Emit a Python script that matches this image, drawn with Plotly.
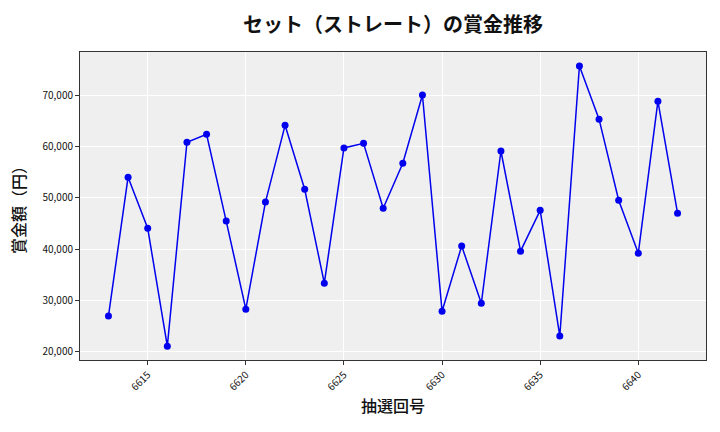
import plotly.graph_objects as go

draws = list(range(6613, 6643))
prizes = [26950, 54000, 44050, 21100, 60800, 62350, 45450, 28300, 49150, 64100,
          51650, 33370, 59700, 60600, 47950, 56700, 70000, 27900, 40600, 29450,
          59100, 39600, 47550, 23050, 75650, 65300, 49500, 39200, 68800, 47000]
x_ticks = [6615, 6620, 6625, 6630, 6635, 6640]
y_ticks = [20000, 30000, 40000, 50000, 60000, 70000]

FONT = "Noto Sans CJK JP"

fig = go.Figure()
fig.add_trace(go.Scatter(
    x=draws, y=prizes, mode="lines+markers",
    line=dict(color="#0000ee", width=1.5),
    marker=dict(color="#0000ee", size=7),
    showlegend=False,
))

fig.update_layout(
    width=720, height=432,
    margin=dict(l=80, r=14, t=52, b=72),
    paper_bgcolor="white",
    plot_bgcolor="#efefef",
    font=dict(family=FONT, color="#111"),
    title=dict(text="<b>セット（ストレート）の賞金推移</b>", x=0.546, xanchor="center",
               y=0.943, yanchor="middle", font=dict(size=20, family=FONT, color="#111")),
)
fig.update_xaxes(
    range=[6611.55, 6643.45], tickvals=x_ticks, ticktext=[str(v) for v in x_ticks],
    tickangle=-45, tickfont=dict(size=10, color="#111"), ticks="outside", ticklen=4, tickcolor="#333",
    showgrid=True, gridcolor="white", gridwidth=1, zeroline=False,
    showline=True, linecolor="#333", linewidth=1, mirror=True,
    title=dict(text="抽選回号", font=dict(size=16, color="#111", weight=500), standoff=8),
)
fig.update_yaxes(
    range=[18400, 78380], tickvals=y_ticks, tickformat=",", tickfont=dict(size=10, color="#111"),
    ticks="outside", ticklen=4, tickcolor="#333",
    showgrid=True, gridcolor="white", gridwidth=1, zeroline=False,
    showline=True, linecolor="#333", linewidth=1, mirror=True,
    title=dict(text="賞金額（円）", font=dict(size=16, color="#111", weight=500), standoff=12),
)

fig.write_html("out.html")
